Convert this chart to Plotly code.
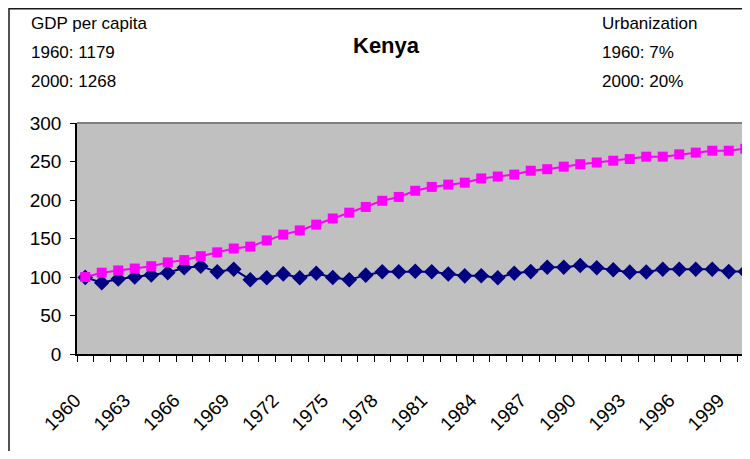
import plotly.graph_objects as go

years = list(range(1960, 2001))
urbanization = [100, 105.6, 108.5, 111, 114, 119, 122, 127, 132, 137,
                139.5, 147.5, 155, 160.5, 168, 176, 183.5, 191, 199, 204,
                212, 217, 220, 222.5, 228, 230.5, 233, 238, 240, 243.3,
                246.5, 248.7, 251, 253.2, 256.3, 256.3, 259.3, 261.5, 264, 264,
                266.6]
gdp = [99.5, 92.5, 97.5, 100, 102.5, 105.6, 112, 114, 106.7, 110,
       96.5, 99, 104, 99, 104.8, 99.4, 96.5, 102.4, 106.9, 106.9,
       107.5, 106.9, 103.9, 101.5, 101.7, 99, 104.8, 107, 112.6, 112.6,
       115, 112.1, 109.5, 106.3, 106.5, 110, 110, 110, 110, 107,
       107]
tick_years = years[::3]
tick_labels = [str(y) for y in tick_years]
y_ticks = [0, 50, 100, 150, 200, 250, 300]

title = "Kenya"
left_text = ["GDP per capita", "1960: 1179", "2000: 1268"]
right_text = ["Urbanization", "1960: 7%", "2000: 20%"]

OFF = 8  # page body margin
W, H = 750 - OFF, 459 - 2 * OFF
L, T = 77 - OFF, 123 - OFF
B = H - (354 - OFF)
PW = W - L
PH = H - T - B
FONT = "Liberation Sans, Arial, sans-serif"


def px(xp):
    """page x pixel -> paper coordinate"""
    return (xp - OFF - L) / PW


def py(yp):
    """page y pixel -> paper coordinate"""
    return (H - B - (yp - OFF)) / PH


fig = go.Figure()
fig.add_trace(go.Scatter(
    x=years, y=gdp, mode="lines+markers",
    line=dict(color="#000080", width=2),
    marker=dict(symbol="diamond", size=12, color="#000080"),
    showlegend=False, cliponaxis=False))
fig.add_trace(go.Scatter(
    x=years, y=urbanization, mode="lines+markers",
    line=dict(color="#FF00FF", width=2),
    marker=dict(symbol="square", size=10, color="#FF00FF"),
    showlegend=False, cliponaxis=False))

span = PW / 16.5
fig.update_xaxes(
    range=[years[0] - 0.5, years[0] - 0.5 + span],
    tickmode="array", tickvals=tick_years, ticktext=tick_labels,
    tickangle=-45, ticks="", showgrid=False, zeroline=False,
    showline=True, linecolor="black", linewidth=1.5,
    tickfont=dict(family=FONT, size=19, color="black"),
    ticklabelstandoff=26, ticklabelshift=-10, ticklabeloverflow="allow",
    minor=dict(tickmode="array", tickvals=[y - 0.5 for y in years] + [years[-1] + 0.5],
               ticks="outside", ticklen=6, tickcolor="black", tickwidth=1, showgrid=False),
)
fig.update_yaxes(
    range=[0, 300], tickvals=y_ticks, ticks="outside", ticklen=5,
    tickcolor="black", showgrid=False, zeroline=False,
    showline=True, linecolor="black", linewidth=1.5,
    tickfont=dict(family=FONT, size=19, color="black"),
    ticklabelstandoff=5,
)

shapes = [
    dict(type="line", xref="paper", yref="paper", x0=0, x1=1, y0=1, y1=1,
         line=dict(color="#808080", width=2)),
    dict(type="rect", xref="paper", yref="paper", x0=px(9), x1=px(800),
         y0=py(520), y1=py(OFF + 0.75), line=dict(color="#1a1a1a", width=1.5)),
]

annotations = [dict(text="<b>" + title + "</b>", x=px(386), y=py(45), xref="paper", yref="paper",
                    showarrow=False, xanchor="center", yanchor="middle",
                    font=dict(family=FONT, size=22, color="black"))]
for i, (lt, rt) in enumerate(zip(left_text, right_text)):
    yy = py(23 + i * 29.5)
    annotations.append(dict(text=lt, x=px(29), y=yy, xref="paper", yref="paper",
                            showarrow=False, xanchor="left", yanchor="middle",
                            font=dict(family=FONT, size=17, color="black")))
    annotations.append(dict(text=rt, x=px(600), y=yy, xref="paper", yref="paper",
                            showarrow=False, xanchor="left", yanchor="middle",
                            font=dict(family=FONT, size=17, color="black")))

fig.update_layout(
    width=W, height=H,
    margin=dict(l=L, r=0, t=T, b=B, pad=0),
    paper_bgcolor="white", plot_bgcolor="#C0C0C0",
    shapes=shapes, annotations=annotations,
    font=dict(family=FONT, color="black"),
)

fig.write_html("out.html")
